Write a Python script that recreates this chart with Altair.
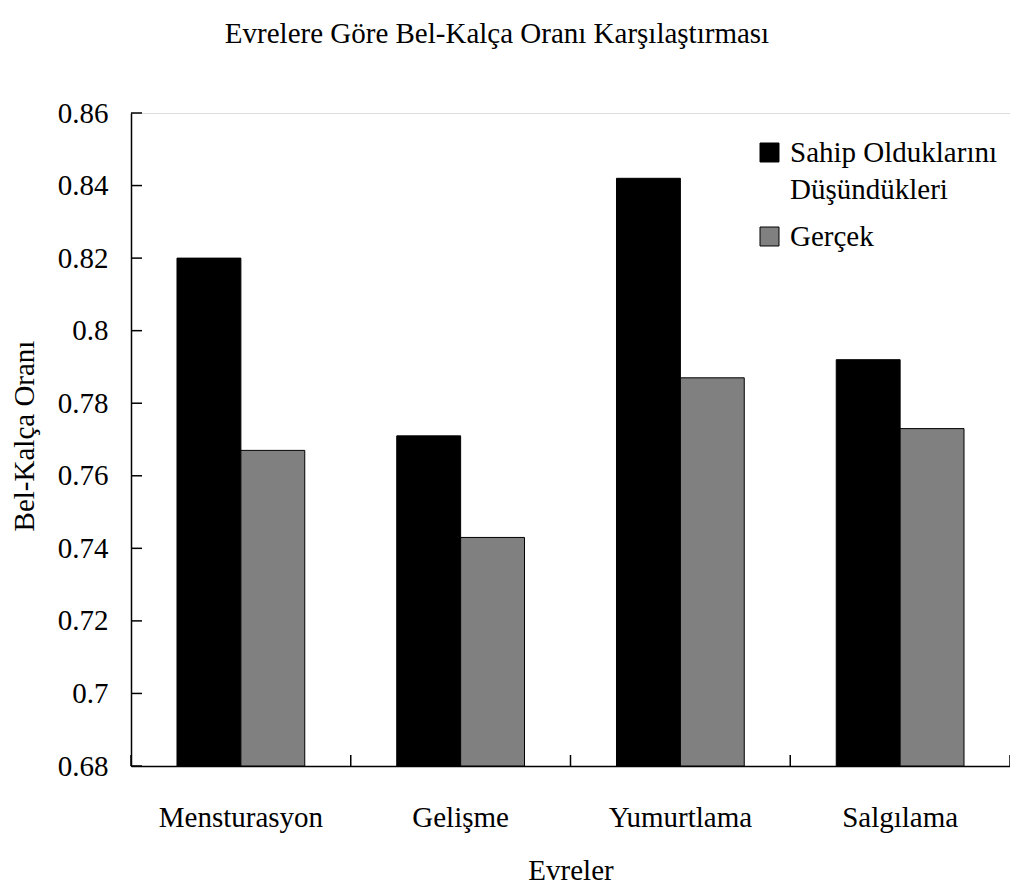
import altair as alt
import pandas as pd

categories = ["Mensturasyon", "Gelişme", "Yumurtlama", "Salgılama"]
series_names = ["Sahip Olduklarını Düşündükleri", "Gerçek"]
believed = [0.820, 0.771, 0.842, 0.792]
actual = [0.767, 0.743, 0.787, 0.773]
y_ticks = [0.68, 0.70, 0.72, 0.74, 0.76, 0.78, 0.80, 0.82, 0.84, 0.86]
colors = ["#000000", "#808080"]
chart_title = "Evrelere Göre Bel-Kalça Oranı Karşılaştırması"

rows = []
for c, b, a in zip(categories, believed, actual):
    rows.append({"Evre": c, "Seri": series_names[0], "Oran": b})
    rows.append({"Evre": c, "Seri": series_names[1], "Oran": a})
df = pd.DataFrame(rows)

FONT = "Liberation Serif"
FS = 29
W, H = 879, 653

yscale = alt.Scale(domain=[0.68, 0.86], zero=False, nice=False)

yaxis = alt.Axis(title="Bel-Kalça Oranı", values=y_ticks, format=".2~f",
                 ticks=False, tickSize=0, labelPadding=23, grid=False,
                 labelFont=FONT, labelFontSize=FS, titleFont=FONT,
                 titleFontSize=FS, titleFontWeight="normal",
                 titleX=-98, titleY=H / 2 - 4, titleAngle=270,
                 titleBaseline="alphabetic", titleAlign="center",
                 domainColor="#000000", domainWidth=1.5,
                 labelColor="#000000", titleColor="#000000")

bars = alt.Chart(df).mark_bar(stroke="#000000", strokeWidth=1).encode(
    x=alt.X("Evre:N", sort=categories,
            scale=alt.Scale(paddingInner=0, paddingOuter=0),
            axis=alt.Axis(title="Evreler", labelAngle=0, ticks=False, tickSize=0,
                          labelPadding=60, labelBaseline="alphabetic",
                          labelFont=FONT, labelFontSize=FS, titleFont=FONT,
                          titleFontSize=FS, titleFontWeight="normal",
                          titleY=113, titleBaseline="alphabetic",
                          domainColor="#000000", domainWidth=1.5,
                          labelColor="#000000", titleColor="#000000",
                          grid=False)),
    xOffset=alt.XOffset("Seri:N", sort=series_names,
                        scale=alt.Scale(paddingInner=0, paddingOuter=0.72)),
    y=alt.Y("Oran:Q", scale=yscale, axis=yaxis),
    y2=alt.datum(0.68),
    color=alt.Color("Seri:N", sort=series_names,
                    scale=alt.Scale(domain=series_names, range=colors),
                    legend=alt.Legend(title=None, orient="none", legendX=624, legendY=25,
                                      symbolType="square", symbolSize=360,
                                      symbolStrokeColor="#000000", symbolStrokeWidth=1,
                                      labelFont=FONT, labelFontSize=FS, labelColor="#000000",
                                      labelLimit=400, rowPadding=17, labelOffset=6,
                                      labelExpr="datum.label == 'Sahip Olduklarını Düşündükleri' ? ['Sahip Olduklarını', 'Düşündükleri'] : datum.label")),
)

ytick_df = pd.DataFrame({"v": y_ticks})
yticks = alt.Chart(ytick_df).mark_rule(color="#000000", strokeWidth=1.5).encode(
    y=alt.Y("v:Q", scale=yscale, axis=yaxis),
    x=alt.value(0),
    x2=alt.value(11),
)

bound_df = pd.DataFrame({"b": [0, 1, 2, 3, 4]})
xticks = alt.Chart(bound_df).mark_rule(color="#000000", strokeWidth=1.5).encode(
    x=alt.X("b:Q", scale=alt.Scale(domain=[0, 4], nice=False, zero=False), axis=None),
    y=alt.value(H - 11),
    y2=alt.value(H),
)

title_df = pd.DataFrame({"t": [chart_title]})
title = alt.Chart(title_df).mark_text(
    font=FONT, fontSize=FS, color="#000000", align="center", baseline="alphabetic"
).encode(
    text="t:N",
    x=alt.value(366),
    y=alt.value(-70),
)

chart = alt.layer(bars, yticks, xticks, title).resolve_scale(x="independent").properties(
    width=W,
    height=H,
    autosize=alt.AutoSizeParams(type="none"),
    padding={"left": 123, "top": 105, "right": 0, "bottom": 120},
).configure_view(stroke="transparent", strokeWidth=0, strokeOpacity=0).configure(
    background="#ffffff",
    style={"guide-label": {"lineHeight": 37}},
)

chart.save("out.html", embed_options={"renderer": "svg", "actions": False})
